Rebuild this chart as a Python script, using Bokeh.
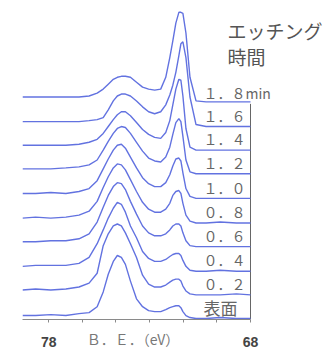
from bokeh.plotting import figure
from bokeh.models import Range1d, FixedTicker, CustomJSTickFormatter, Label
from bokeh.embed import file_html
from bokeh.resources import INLINE

# binding energy sample points (eV), shared by all spectra
energy = [79.3, 78.65, 77.9, 77.15, 76.5, 76.0, 75.6, 75.3, 75.05, 74.8, 74.6, 74.4,
          74.2, 73.95, 73.65, 73.35, 73.05, 72.75, 72.45, 72.2, 72.0, 71.85, 71.7,
          71.55, 71.45, 71.35, 71.2, 71.0, 70.7, 70.2, 69.5, 68.7, 68.0]

# intensities (arbitrary units) above each spectrum's own baseline
s_surface = [3, 3, 4, 3, 5, 6, 12, 27, 45, 58, 64, 62, 55, 38, 20, 12, 8, 7, 7, 9, 11, 12, 13, 13, 11, 7, 3, 1, 0, 0, 1, 0, 0]
s_02 = [5, 6, 5, 6, 8, 12, 22, 50, 62, 70, 72, 70, 63, 52, 38, 20, 11, 8, 8, 10, 13, 15, 16, 16, 14, 9, 4, 1, 0, 0, 0, 1, 0]
s_04 = [5, 6, 6, 6, 8, 14, 28, 42, 54, 64, 70, 68, 60, 46, 34, 20, 13, 10, 10, 12, 15, 17, 18, 18, 16, 11, 5, 1, 0, 0, 1, 0, 0]
s_06 = [5, 5, 6, 6, 8, 13, 25, 40, 52, 61, 65, 64, 58, 46, 33, 21, 14, 11, 11, 13, 17, 21, 23, 23, 21, 14, 6, 1, 0, 0, 0, 0, 0]
s_08 = [5, 6, 5, 6, 8, 12, 22, 36, 47, 56, 60, 59, 54, 44, 32, 21, 14, 11, 11, 14, 20, 28, 32, 33, 30, 20, 8, 2, 0, 0, 1, 0, 0]
s_10 = [5, 5, 6, 5, 7, 10, 18, 30, 40, 49, 54, 55, 51, 42, 31, 21, 15, 12, 12, 16, 24, 33, 40, 41, 38, 26, 10, 2, 0, 0, 0, 0, 0]
s_12 = [5, 5, 5, 6, 7, 9, 14, 24, 33, 41, 46, 48, 47, 41, 32, 23, 16, 13, 12, 17, 27, 40, 52, 56, 53, 38, 14, 2, 0, 0, 0, 0, 0]
s_14 = [5, 5, 5, 5, 6, 8, 11, 17, 24, 31, 36, 39, 39, 35, 28, 21, 16, 13, 12, 18, 30, 46, 62, 72, 71, 55, 22, 3, 0, 0, 0, 0, 0]
s_16 = [5, 5, 5, 5, 5, 6, 7, 9, 17, 26, 31, 33, 33, 31, 26, 20, 15, 13, 15, 22, 32, 42, 55, 72, 84, 86, 70, 30, 2, 0, 0, 0, 0]
s_18 = [5, 5, 5, 5, 5, 6, 9, 13, 18, 23, 25, 26, 26, 25, 20, 15, 13, 12, 13, 25, 45, 62, 80, 91, 91, 90, 70, 25, 1, 0, 0, 0, 0]

spectra = [s_surface, s_02, s_04, s_06, s_08, s_10, s_12, s_14, s_16, s_18]
offsets = [1, 25, 49, 74, 98, 123, 148, 172, 196, 221]
etch_labels = ["表面", "０．２", "０．４", "０．６", "０．８", "１．０", "１．２", "１．４", "１．６", "１．８min"]

x_ticks = [78, 76.33, 74.67, 73.0, 71.33, 69.67, 68]
x_start, x_end = 79.3, 68.0
px_per_ev = 228 / (x_start - x_end)

p = figure(width=334, height=351, output_backend="svg", toolbar_location=None,
           x_range=Range1d(x_start, x_start - 312 / px_per_ev), y_range=Range1d(0, 324),
           y_axis_location=None, min_border_left=22, min_border_right=0,
           min_border_top=0, min_border_bottom=27)
p.background_fill_color = "white"
p.border_fill_color = "white"
p.outline_line_color = None
p.grid.visible = False

ax = p.xaxis[0]
ax.bounds = (x_end, x_start)
ax.ticker = FixedTicker(ticks=x_ticks)
ax.formatter = CustomJSTickFormatter(code="return (Math.abs(tick-78)<0.01 || Math.abs(tick-68)<0.01) ? tick.toFixed(0) : '';")
ax.axis_line_color = "#8a8a8a"
ax.major_tick_line_color = "#8a8a8a"
ax.major_tick_out = 3
ax.major_tick_in = 0
ax.minor_tick_line_color = None
ax.major_label_text_font = "Liberation Sans"
ax.major_label_text_font_style = "bold"
ax.major_label_text_font_size = "14px"
ax.major_label_text_color = "#444444"
ax.major_label_standoff = 14
# the axis title sits on the same row as the tick labels, left of centre
ax.axis_label = "Ｂ．Ｅ．（eV）" + "\u3000" * 7
ax.axis_label_text_font = "Noto Sans CJK JP"
ax.axis_label_text_font_style = "normal"
ax.axis_label_text_font_size = "14px"
ax.axis_label_text_color = "#777777"
ax.axis_label_standoff = -21

# right-hand vertical rule spanning the stacked baselines
p.segment(x0=[x_end], y0=[0], x1=[x_end], y1=[offsets[-1] - 2], line_color="#666666", line_width=1)

for off, s in zip(offsets, spectra):
    p.line(energy, [off + v for v in s], line_color="#5a6ade", line_width=1.4, line_alpha=0.95)

for off, lab in zip(offsets, etch_labels):
    p.add_layout(Label(x=70.33, y=off + (9 if "min" in lab else 11), text=lab,
                       text_font="Noto Sans CJK JP", text_font_size="17px" if lab == "表面" else "14px",
                       text_color="#666666", text_align="left", text_baseline="middle"))

p.add_layout(Label(x=69.14, y=294, text="エッチング", text_font="Noto Sans CJK JP",
                   text_font_size="19px", text_color="#555555", text_align="left", text_baseline="middle"))
p.add_layout(Label(x=69.14, y=267, text="時間", text_font="Noto Sans CJK JP",
                   text_font_size="19px", text_color="#555555", text_align="left", text_baseline="middle"))

open("out.html", "w").write(file_html(p, INLINE))
